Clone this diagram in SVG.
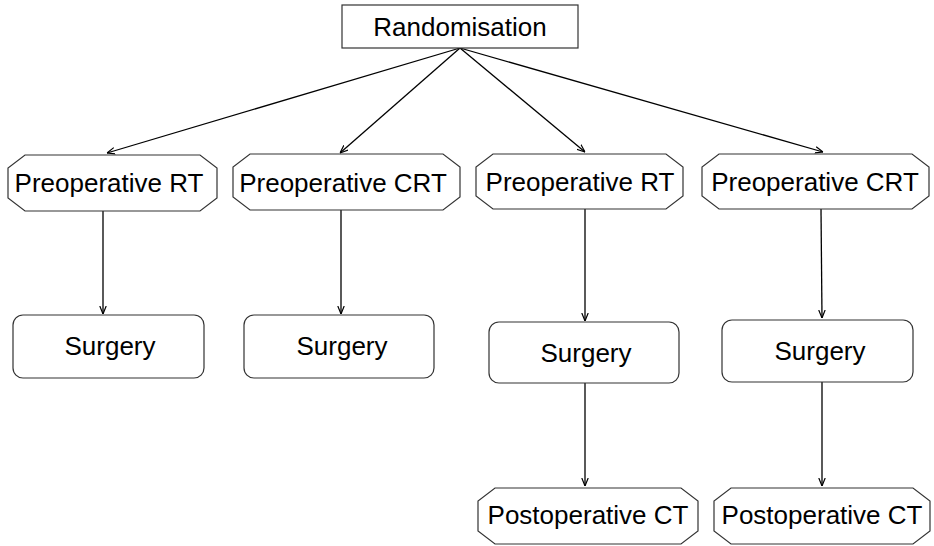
<svg xmlns="http://www.w3.org/2000/svg" width="934" height="546" viewBox="0 0 934 546">
<defs>
<marker id="ah" viewBox="0 0 10 10" refX="10" refY="5" markerWidth="8" markerHeight="8" markerUnits="userSpaceOnUse" orient="auto">
<path d="M0,1 L10,5 L0,9" fill="none" stroke="#000" stroke-width="1.5"/>
</marker>
<style>
.box{fill:#fff;stroke:#333;stroke-width:1.2}
.t{font-family:"Liberation Sans",Arial,sans-serif;font-size:26px;fill:#000;text-anchor:middle}
.c{stroke:#000;stroke-width:1.3;fill:none;marker-end:url(#ah)}
</style>
</defs>
<rect width="934" height="546" fill="#fff"/>
<g id="connectors">
<line class="c" x1="460" y1="48" x2="107" y2="153"/>
<line class="c" x1="460" y1="48" x2="340" y2="153"/>
<line class="c" x1="460" y1="48" x2="585" y2="152"/>
<line class="c" x1="460" y1="48" x2="823" y2="152"/>
<line class="c" x1="103" y1="211" x2="103" y2="314"/>
<line class="c" x1="341" y1="210" x2="341" y2="314"/>
<line class="c" x1="585" y1="209" x2="585" y2="321"/>
<line class="c" x1="821" y1="209" x2="822" y2="318"/>
<line class="c" x1="585" y1="383" x2="585" y2="486"/>
<line class="c" x1="822" y1="382" x2="822" y2="486"/>
</g>
<g id="randomisation">
<rect class="box" x="342" y="5" width="236" height="43"/>
<text class="t" x="460" y="36">Randomisation</text>
</g>
<g id="preop-rt-1">
<polygon class="box" points="25,155 200,155 217,168 217,198 200,211 25,211 8,198 8,168"/>
<text class="t" x="109" y="192">Preoperative RT</text>
</g>
<g id="preop-crt-1">
<polygon class="box" points="250,154 443,154 460,167 460,197 443,210 250,210 233,197 233,167"/>
<text class="t" x="343" y="192">Preoperative CRT</text>
</g>
<g id="preop-rt-2">
<polygon class="box" points="493,154 666,154 683,167 683,196 666,209 493,209 476,196 476,167"/>
<text class="t" x="580" y="191">Preoperative RT</text>
</g>
<g id="preop-crt-2">
<polygon class="box" points="719,154 912,154 929,167 929,196 912,209 719,209 702,196 702,167"/>
<text class="t" x="815" y="191">Preoperative CRT</text>
</g>
<g id="surgery-1">
<rect class="box" x="13" y="315" width="191" height="63" rx="10"/>
<text class="t" x="110" y="355">Surgery</text>
</g>
<g id="surgery-2">
<rect class="box" x="244" y="315" width="190" height="63" rx="10"/>
<text class="t" x="342" y="355">Surgery</text>
</g>
<g id="surgery-3">
<rect class="box" x="489" y="322" width="190" height="61" rx="10"/>
<text class="t" x="586" y="362">Surgery</text>
</g>
<g id="surgery-4">
<rect class="box" x="722" y="320" width="191" height="62" rx="10"/>
<text class="t" x="820" y="360">Surgery</text>
</g>
<g id="postop-ct-1">
<polygon class="box" points="495,488 681,488 698,501 698,531 681,544 495,544 478,531 478,501"/>
<text class="t" x="588" y="524">Postoperative CT</text>
</g>
<g id="postop-ct-2">
<polygon class="box" points="731,488 913,488 930,501 930,531 913,544 731,544 714,531 714,501"/>
<text class="t" x="822" y="524">Postoperative CT</text>
</g>
</svg>
